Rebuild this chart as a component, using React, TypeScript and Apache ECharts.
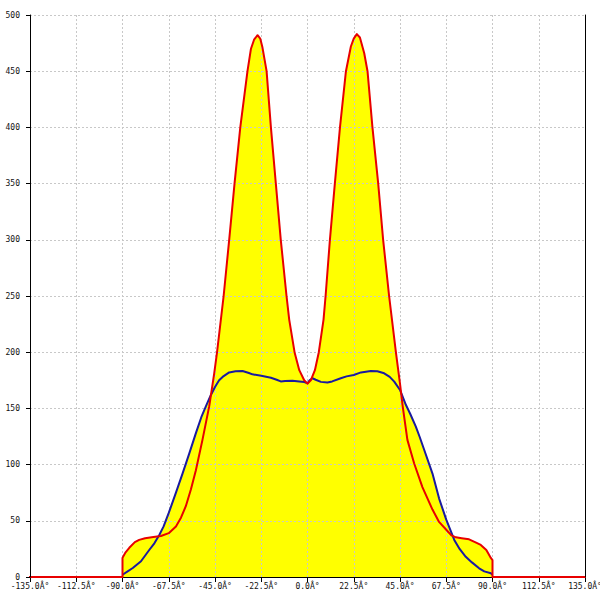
import React, { useEffect, useRef } from "react";
import * as echarts from "echarts";

const xTicks = [-135, -112.5, -90, -67.5, -45, -22.5, 0, 22.5, 45, 67.5, 90, 112.5, 135];
const degSuffix = "Â°";
const yTicks = [0, 50, 100, 150, 200, 250, 300, 350, 400, 450, 500];

const redSeries: [number, number][] = [
  [-150, 0], [-90, 0], [-90, 17], [-88.5, 22], [-86.7, 26], [-84, 31], [-81.9, 33], [-79, 34.5],
  [-75, 35.5], [-71.3, 36.5], [-67.5, 39], [-64, 45], [-61.5, 53], [-59.2, 63], [-56.7, 78],
  [-54.3, 95], [-51.1, 122], [-47.8, 152], [-45.4, 181], [-44, 200], [-40.8, 250], [-38.1, 300],
  [-35.5, 350], [-32.7, 400], [-29.2, 450], [-27.5, 470], [-26, 478], [-24.3, 482], [-23, 479],
  [-21.9, 471], [-19.9, 450], [-17.8, 400], [-15.4, 350], [-13, 300], [-10.2, 250], [-8.9, 229],
  [-6.3, 200], [-4, 184], [-1.6, 175], [0, 172], [1.6, 175], [3.6, 184], [5.5, 200], [7.8, 229],
  [8.8, 250], [10.9, 300], [13.3, 350], [15.8, 400], [18.7, 450], [21.1, 472], [22.5, 479],
  [24, 483], [25.5, 480], [27.6, 466], [29.2, 450], [31.6, 400], [34.4, 350], [36.8, 300],
  [39.7, 250], [43, 200], [44, 186], [45, 172], [46.3, 152], [48.6, 122], [51.9, 101], [55.9, 80],
  [60.8, 60], [64, 49], [67.5, 42], [70, 37], [72.2, 35.3], [75, 34.5], [78.6, 33.5], [81.5, 31],
  [84.3, 28.5], [87, 24], [89.2, 17], [90, 15], [90, 0], [150, 0],
];

const blueSeries: [number, number][] = [
  [-90, 2], [-87.5, 5], [-85, 8], [-81, 14], [-77, 24], [-74.5, 30], [-72.1, 37.4], [-70, 45],
  [-67.5, 57], [-64, 75], [-60.8, 92], [-57.5, 110], [-54.3, 128], [-51.5, 143], [-49.4, 152],
  [-47, 162], [-45, 169], [-43, 175], [-41.3, 178], [-38.1, 182], [-35, 183], [-31.6, 183.3],
  [-28.5, 181.5], [-26.8, 180.3], [-22.5, 179], [-17.8, 177.3], [-15, 175.5], [-13, 174],
  [-10.9, 174.4], [-7.3, 174.7], [-4, 174], [-1.5, 173.5], [0, 172.3], [1, 175], [2.4, 176.8],
  [4, 175.5], [6.5, 173.6], [9.7, 173], [12, 174], [16.2, 176.8], [19, 178.5], [22.5, 179.7],
  [26, 182], [30.8, 183.3], [34, 183], [37.3, 181.2], [40, 178], [42.2, 173.8], [45, 166.4],
  [47.9, 153], [50, 145], [52.7, 133.7], [54.5, 125], [56.8, 113], [60.8, 92], [64, 70],
  [67.5, 51], [71.4, 33], [74, 25], [77, 18], [80, 13], [83.5, 7.7], [86, 5], [89.2, 3.3], [90, 2],
];

const FONT = "DejaVu Sans Mono";
const GRID_LINE = { show: true, lineStyle: { color: "#c8c8c8", type: [2, 2] as number[], width: 1 } };

export default function App() {
  const ref = useRef<HTMLDivElement>(null);
  useEffect(() => {
    document.body.style.margin = "0";
    if (!ref.current) return;
    const chart = echarts.init(ref.current, null, { renderer: "svg" });
    const yMin = yTicks[0];
    const yMax = yTicks[yTicks.length - 1];
    const yInt = yTicks[1] - yTicks[0];
    const xMin = xTicks[0];
    const xMax = xTicks[xTicks.length - 1];
    const xInt = xTicks[1] - xTicks[0];
    chart.setOption({
      animation: false,
      backgroundColor: "#ffffff",
      grid: { left: 30, right: 15, top: 15, bottom: 23, containLabel: false, outerBoundsMode: "none" },
      xAxis: {
        type: "value",
        min: xMin,
        max: xMax,
        interval: xInt,
        z: 2,
        axisLine: { show: true, onZero: false, lineStyle: { color: "#000", width: 1 } },
        axisTick: { show: true, length: 5, lineStyle: { color: "#000" } },
        axisLabel: {
          fontFamily: FONT,
          fontSize: 8,
          color: "#111",
          margin: 5,
          showMinLabel: true,
          showMaxLabel: true,
          formatter: (v: number) => v.toFixed(1) + degSuffix,
        },
        splitLine: GRID_LINE,
      },
      yAxis: [
        {
          type: "value",
          min: yMin,
          max: yMax,
          interval: yInt,
          position: "left",
          z: 2,
          axisLine: { show: false },
          axisTick: { show: false },
          axisLabel: { show: false },
          splitLine: GRID_LINE,
        },
        {
          type: "value",
          min: yMin,
          max: yMax,
          interval: yInt,
          position: "left",
          z: 6,
          axisLine: { show: true, lineStyle: { color: "#000", width: 1 } },
          axisTick: { show: true, length: 4, lineStyle: { color: "#000" } },
          axisLabel: { fontFamily: FONT, fontSize: 8, color: "#111", margin: 10 },
          splitLine: { show: false },
        },
        {
          type: "value",
          min: yMin,
          max: yMax,
          interval: yInt,
          position: "right",
          z: 6,
          axisLine: { show: true, lineStyle: { color: "#000", width: 1 } },
          axisTick: { show: false },
          axisLabel: { show: false },
          splitLine: { show: false },
        },
      ],
      series: [
        {
          type: "line",
          data: redSeries,
          symbol: "none",
          z: 1,
          lineStyle: { width: 0, opacity: 0 },
          areaStyle: { color: "#ffff00", opacity: 1 },
        },
        {
          type: "line",
          data: blueSeries,
          symbol: "none",
          z: 1,
          lineStyle: { width: 0, opacity: 0 },
          areaStyle: { color: "#ffff00", opacity: 1 },
        },
        {
          type: "line",
          data: blueSeries,
          symbol: "none",
          z: 3,
          lineStyle: { color: "#1a1aa0", width: 2, join: "round" },
        },
        {
          type: "line",
          data: redSeries,
          symbol: "none",
          z: 4,
          clip: false,
          lineStyle: { color: "#e80000", width: 2, join: "round" },
        },
      ],
    });
    return () => chart.dispose();
  }, []);
  return <div ref={ref} style={{ width: 600, height: 600 }} />;
}
